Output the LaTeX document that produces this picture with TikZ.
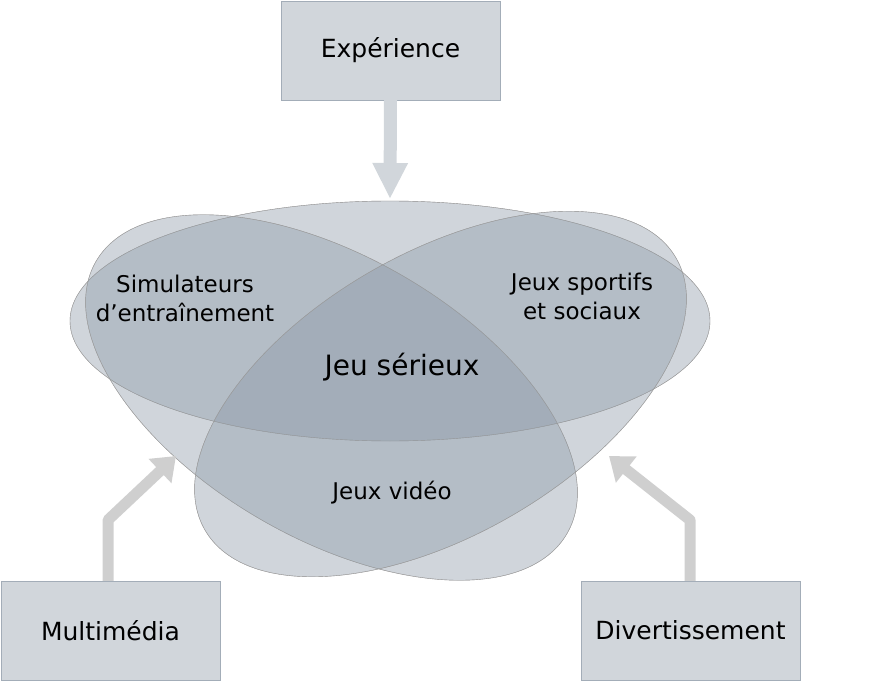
\documentclass[tikz,border=0pt]{standalone}
\usepackage{fontspec}
\setmainfont{DejaVu Sans}
\usetikzlibrary{arrows.meta}
\definecolor{boxf}{HTML}{D1D6DB}
\definecolor{boxd}{HTML}{A3ADB8}
\definecolor{ellf}{HTML}{8A97A6}
\definecolor{arr}{HTML}{CFCFCF}
\begin{document}
\begin{tikzpicture}[x=1pt,y=-1pt,
  bx/.style={draw=boxd,fill=boxf,minimum width=219pt,minimum height=99pt,font=\fontsize{25}{30}\selectfont,inner sep=0},
  el/.style={draw=black!40,fill=ellf,fill opacity=0.4,draw opacity=0.8},
  lb/.style={font=\fontsize{23}{29}\selectfont,align=center}]
\useasboundingbox (0,0) rectangle (892,682);
\fill[el] (390,321) ellipse [x radius=320,y radius=120];
\fill[el] (331.5,397.5) ellipse [x radius=272,y radius=141,rotate=-30];
\fill[el] (440.5,394) ellipse [x radius=272,y radius=141,rotate=30];
\draw[el,fill=none] (390,321) ellipse [x radius=320,y radius=120];
\draw[el,fill=none] (331.5,397.5) ellipse [x radius=272,y radius=141,rotate=-30];
\draw[el,fill=none] (440.5,394) ellipse [x radius=272,y radius=141,rotate=30];
\node[bx] (exp) at (390.5,50.5) {Expérience};
\node[bx] (mul) at (110.5,630.5) {Multimédia};
\node[bx] (div) at (690.5,630.5) {Divertissement};
\coordinate (t) at (390,199);
\coordinate (l1) at (108,520); \coordinate (l2) at (176,456);
\coordinate (r1) at (690,520); \coordinate (r2) at (609,456);
\draw[boxf,line width=13pt,-{Triangle[length=36pt,width=33pt]}] (exp.south) -- (t);
\draw[arr,line width=11pt,line join=round,-{Triangle[length=22pt,width=32pt]}] (mul.north -| l1) -- (l1) -- (l2);
\draw[arr,line width=11pt,line join=round,-{Triangle[length=22pt,width=32pt]}] (div.north -| r1) -- (r1) -- (r2);
\node[lb] (sim) at (185,298) {Simulateurs\\d'entraînement};
\node[lb] (spo) at (582,296) {Jeux sportifs\\et sociaux};
\node[lb] (vid) at (392,493) {Jeux vidéo};
\node[font=\fontsize{28}{34}\selectfont] (js) at (402,367) {Jeu sérieux};
\end{tikzpicture}
\end{document}
